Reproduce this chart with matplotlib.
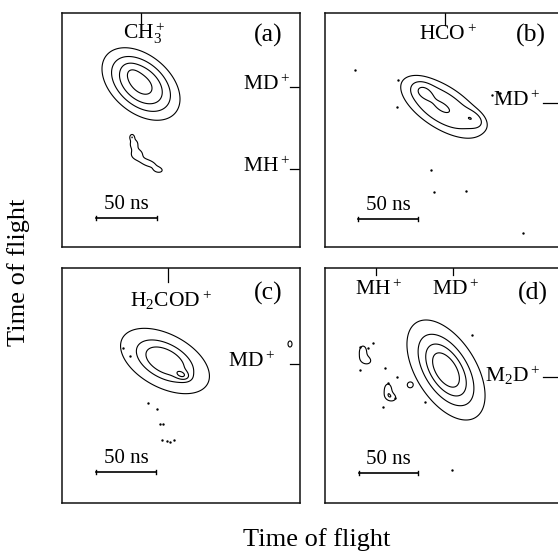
import numpy as np
import matplotlib
matplotlib.use('Agg')
import matplotlib.pyplot as plt

plt.rcParams['font.family'] = ['Liberation Serif', 'DejaVu Serif']
plt.rcParams['mathtext.fontset'] = 'custom'
plt.rcParams['mathtext.rm'] = 'Liberation Serif'
plt.rcParams['mathtext.default'] = 'regular'

# ---------------- data (panel pixel-like units, y grows downward) ----------------
panel_tags = ['(a)', '(b)', '(c)', '(d)']

# mass markers on the top edge (x position) and right edge (y position)
top_labels = [['CH$_3^+$'], ['HCO$^+$'], ['H$_2$COD$^+$'], ['MH$^+$', 'MD$^+$']]
top_pos = [[79], [120], [106], [51, 128]]
right_labels = [['MD$^+$', 'MH$^+$'], ['MD$^+$'], ['MD$^+$'], ['M$_2$D$^+$']]
right_pos = [[74, 156], [90], [96], [109]]

# coincidence islands: centre x, centre y, width, length, tilt (deg), intensity
blob_a_cx = [79, 70, 72, 75, 86, 96, 70]
blob_a_cy = [71, 60, 131, 141, 150, 157, 124]
blob_a_sx = [25, 7, 3.5, 5, 8, 3.5, 1.8]
blob_a_sy = [16, 5, 4, 4, 3, 2, 2.2]
blob_a_ang = [40, 50, 0, 0, 20, 10, 0]
blob_a_amp = [1.0, 0.12, 0.33, 0.33, 0.33, 0.33, 0.33]
levels_a = [0.2, 0.4, 0.62, 0.88]

blob_b_cx = [117, 98, 148]
blob_b_cy = [94, 78, 106]
blob_b_sx = [29, 7, 8]
blob_b_sy = [13, 5, 5]
blob_b_ang = [33, 30, 30]
blob_b_amp = [0.75, 0.35, 0.35]
levels_b = [0.2, 0.4, 0.72]
dots_b_x = [106, 109, 141, 198, 73, 72, 167, 175, 183, 30]
dots_b_y = [157, 179, 178, 220, 67, 94, 82, 80, 79, 57]

blob_c_cx = [103, 120, 228]
blob_c_cy = [93, 107, 76]
blob_c_sx = [29, 5, 2]
blob_c_sy = [16, 3, 3]
blob_c_ang = [28, 20, 0]
blob_c_amp = [0.8, 0.3, 0.33]
levels_c = [0.2, 0.45, 0.62, 0.82]
dots_c_x = [86, 95, 98, 101, 100, 105, 108, 112, 61, 68]
dots_c_y = [135, 141, 156, 156, 172, 173, 174, 172, 80, 88]

blob_d_cx = [121, 38, 41, 63, 66, 85]
blob_d_cy = [102, 84, 92, 122, 129, 117]
blob_d_sx = [28.7, 3, 4, 3, 4, 2]
blob_d_sy = [15.4, 5, 3, 5, 3, 2]
blob_d_ang = [58, 0, 20, 0, 20, 0]
blob_d_amp = [1.0, 0.3, 0.3, 0.3, 0.3, 0.3]
levels_d = [0.15, 0.38, 0.6, 0.8]
dots_d_x = [35, 43, 35, 60, 72, 63, 58, 100, 147, 127, 48, 70]
dots_d_y = [79, 80, 102, 100, 109, 115, 139, 134, 67, 202, 75, 130]

dots_a_x = []
dots_a_y = []

scale_x0 = [34, 33, 34, 34]
scale_x1 = [95, 93, 94, 93]
scale_y = [205, 206, 204, 205]

# ---------------- layout ----------------
FW, FH = 558, 554
boxes = [(62, 13, 300, 247), (325, 13, 561, 247), (62, 268, 300, 503), (325, 268, 561, 503)]
top_label_y = [20, 22, 32, 22]
top_tick_len = [10, 12, 14, 7]
right_text_x = [229, 216, 214, 216]
right_tick_len = [10, 18, 10, 18]
tag_xy = [(206, 22), (206, 22), (206, 25), (208, 25)]

blobs = [
    (blob_a_cx, blob_a_cy, blob_a_sx, blob_a_sy, blob_a_ang, blob_a_amp, levels_a, dots_a_x, dots_a_y),
    (blob_b_cx, blob_b_cy, blob_b_sx, blob_b_sy, blob_b_ang, blob_b_amp, levels_b, dots_b_x, dots_b_y),
    (blob_c_cx, blob_c_cy, blob_c_sx, blob_c_sy, blob_c_ang, blob_c_amp, levels_c, dots_c_x, dots_c_y),
    (blob_d_cx, blob_d_cy, blob_d_sx, blob_d_sy, blob_d_ang, blob_d_amp, levels_d, dots_d_x, dots_d_y),
]

fig = plt.figure(figsize=(FW / 100, FH / 100), dpi=100)
fig.patch.set_facecolor('white')

for i, (l, t, r, b) in enumerate(boxes):
    W, H = r - l, b - t
    ax = fig.add_axes([l / FW, 1 - b / FH, W / FW, H / FH])
    ax.set_xlim(0, W)
    ax.set_ylim(H, 0)
    ax.set_xticks([])
    ax.set_yticks([])
    for s in ax.spines.values():
        s.set_linewidth(1.1)
        s.set_color('#111111')

    cx, cy, sx, sy, ang, amp, levels, dx, dy = blobs[i]
    xs = np.linspace(0, W, 480)
    ys = np.linspace(0, H, 480)
    X, Y = np.meshgrid(xs, ys)
    Z = np.zeros_like(X)
    for k in range(len(cx)):
        th = np.deg2rad(ang[k])
        u = (X - cx[k]) * np.cos(th) + (Y - cy[k]) * np.sin(th)
        v = -(X - cx[k]) * np.sin(th) + (Y - cy[k]) * np.cos(th)
        Z += amp[k] * np.exp(-0.5 * (u / sx[k]) ** 2 - 0.5 * (v / sy[k]) ** 2)
    ax.contour(X, Y, Z, levels=levels, colors='black', linewidths=0.8)
    if len(dx):
        ax.scatter(dx, dy, s=3, color='black', linewidths=0)

    # top mass markers
    for lab, xp in zip(top_labels[i], top_pos[i]):
        ax.plot([xp, xp], [0, top_tick_len[i]], color='black', lw=0.9)
        ax.text(xp + 3, top_label_y[i], lab, ha='center', va='center', fontsize=15.5)
    # right mass markers
    for lab, yp in zip(right_labels[i], right_pos[i]):
        ax.plot([W - right_tick_len[i], W], [yp, yp], color='black', lw=0.9)
        ax.text(right_text_x[i], yp - 2, lab, ha='right', va='center', fontsize=15.5)
    # panel tag
    ax.text(tag_xy[i][0], tag_xy[i][1], panel_tags[i], ha='center', va='center', fontsize=18.5)
    # 50 ns scale bar
    x0, x1, yb = scale_x0[i], scale_x1[i], scale_y[i]
    ax.plot([x0, x1], [yb, yb], color='black', lw=1.2)
    ax.plot([x0, x0], [yb - 2, yb + 2], color='black', lw=1.0)
    ax.plot([x1, x1], [yb - 2, yb + 2], color='black', lw=1.0)
    ax.text((x0 + x1) / 2, yb - 4, '50 ns', ha='center', va='bottom', fontsize=15)

fig.text(19 / FW, 1 - 272 / FH, 'Time of flight', rotation=90, ha='center', va='center', fontsize=19)
fig.text(317 / FW, 1 - 540 / FH, 'Time of flight', ha='center', va='center', fontsize=19)

fig.savefig('out.png', dpi=100, facecolor='white')
